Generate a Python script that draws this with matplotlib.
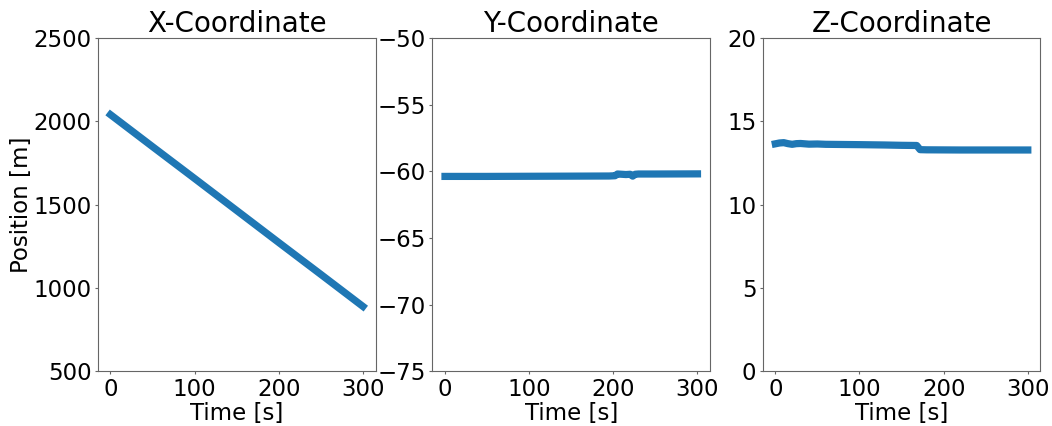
import matplotlib
matplotlib.use("Agg")
import matplotlib.pyplot as plt

# time stamps [s] and positions [m]
time_x = [0, 50, 100, 150, 200, 250, 300]
pos_x = [2040, 1848, 1657, 1465, 1273, 1082, 890]

time_y = [0, 50, 100, 150, 195, 202, 205, 210, 215, 220, 223, 226, 230, 250, 300]
pos_y = [-60.38, -60.38, -60.37, -60.36, -60.35, -60.33, -60.2, -60.22, -60.24,
         -60.22, -60.36, -60.22, -60.2, -60.2, -60.19]

time_z = [0, 5, 10, 15, 20, 25, 30, 40, 50, 60, 80, 100, 130, 150, 168, 172, 180,
          220, 260, 300]
pos_z = [13.65, 13.7, 13.72, 13.66, 13.62, 13.66, 13.67, 13.63, 13.64, 13.62, 13.61,
         13.6, 13.58, 13.56, 13.55, 13.3, 13.29, 13.28, 13.28, 13.28]

titles = ["X-Coordinate", "Y-Coordinate", "Z-Coordinate"]
ylims = [(500, 2500), (-75, -50), (0, 20)]

plt.rc("font", family="DejaVu Sans", size=16.5)
fig = plt.figure(figsize=(10.52, 4.26), dpi=100)

lefts = [0.093, 0.411, 0.725]
axes = [fig.add_axes([l, 0.128, 0.264, 0.783]) for l in lefts]

series = [(time_x, pos_x), (time_y, pos_y), (time_z, pos_z)]
for ax, (t, p), title, ylim in zip(axes, series, titles, ylims):
    ax.plot(t, p, color="#1f77b4", linewidth=5.2, solid_capstyle="projecting")
    ax.set_title(title, fontsize=20, pad=3)
    ax.set_xlabel("Time [s]", labelpad=1)
    ax.set_ylim(*ylim)
    ax.set_xlim(-15, 315)
    ax.set_xticks([0, 100, 200, 300])
    for s in ax.spines.values():
        s.set_color("#666666")
        s.set_linewidth(0.8)
    ax.tick_params(color="#666666", length=2.5, pad=2)

axes[0].set_ylabel("Position [m]", labelpad=0)

fig.savefig("out.png", dpi=100)
